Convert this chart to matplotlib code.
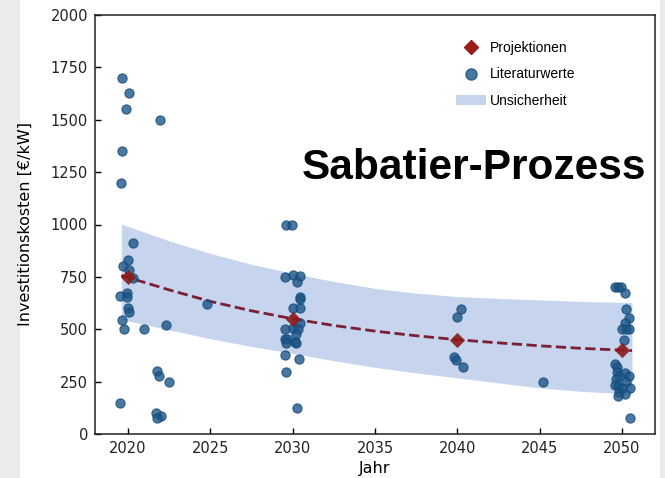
import matplotlib
matplotlib.use('Agg')
import matplotlib.pyplot as plt
from matplotlib.lines import Line2D
from matplotlib.patches import Patch, Rectangle

# Literaturwerte (Jahr, Investitionskosten in EUR/kW)
lit_years = [2019.62, 2020.08, 2019.88, 2021.94, 2019.65, 2019.60, 2020.28, 2020.02,
             2019.70, 2020.08, 2020.28, 2019.53, 2019.96, 2019.92, 2020.00, 2020.06,
             2019.62, 2019.76, 2020.99, 2022.29, 2024.77, 2021.74, 2021.90, 2022.47,
             2019.53, 2021.68, 2022.00, 2021.74,
             2029.62, 2029.99, 2029.54, 2030.05, 2030.45, 2030.29, 2030.43, 2030.45,
             2030.03, 2030.47, 2030.47, 2030.03, 2029.56, 2030.33, 2030.23, 2029.54,
             2029.66, 2029.58, 2030.15, 2030.20, 2029.52, 2030.37, 2029.62, 2030.27,
             2040.25, 2039.95, 2039.80, 2039.94, 2040.32, 2045.20,
             2049.56, 2049.76, 2049.92, 2050.20, 2050.23, 2050.44, 2050.20, 2050.02,
             2050.23, 2050.44, 2050.10, 2049.58, 2049.68, 2049.70, 2049.82, 2050.18,
             2050.45, 2049.64, 2050.23, 2049.58, 2049.76, 2050.00, 2050.48, 2049.79,
             2050.20, 2049.77, 2050.50]
lit_values = [1700, 1630, 1550, 1500, 1350, 1200, 910, 830,
              800, 783, 743, 659, 671, 653, 600, 581,
              544, 500, 500, 520, 619, 301, 277, 250,
              150, 102, 86, 75,
              1000, 1000, 748, 759, 754, 726, 654, 644,
              600, 600, 528, 504, 500, 500, 477, 452,
              452, 433, 441, 436, 376, 360, 295, 124,
              598, 558, 369, 352, 320, 250,
              700, 700, 700, 675, 598, 554, 528, 500,
              500, 500, 450, 336, 318, 297, 278, 290,
              278, 261, 250, 234, 229, 218, 220, 202,
              191, 183, 75]

# Projektionen
proj_years = [2020, 2030, 2040, 2050]
proj_values = [750, 550, 450, 400]

# Trendkurve und Unsicherheitsband
curve_years = [2019.6, 2022.5, 2025, 2027.5, 2030, 2032.5, 2035, 2037.5,
               2040, 2042.5, 2045, 2047.5, 2050.6]
curve_mid = [757, 688, 633, 588, 550, 518, 491, 469, 450, 435, 421, 409, 398]
curve_upper = [1002, 922, 862, 810, 767, 728, 695, 672, 656, 647, 640, 633, 627]
curve_lower = [547, 497, 455, 418, 385, 350, 318, 292, 268, 244, 220, 204, 190]

fig = plt.figure(figsize=(6.65, 4.78), dpi=100, facecolor='#ebebeb')
fig.patches.append(Rectangle((20 / 665, 0), 640 / 665, 1, transform=fig.transFigure,
                             facecolor='white', edgecolor='none', zorder=-10))
ax = fig.add_axes([95 / 665, 1 - 434 / 478, 560 / 665, 419 / 478])

ax.fill_between(curve_years, curve_lower, curve_upper, color='#4472C4', alpha=0.3,
                linewidth=0, zorder=1)
ax.plot(curve_years, curve_mid, '--', color='#7a1f35', lw=2, zorder=2)
ax.scatter(lit_years, lit_values, s=44, color='#1b5689', alpha=0.8,
           edgecolors='#174a78', linewidths=0.8, zorder=3)
ax.scatter(proj_years, proj_values, marker='D', s=60, color='#8b1a1a', alpha=0.9,
           linewidths=0, zorder=4)

ax.set_xlim(2018, 2052)
ax.set_ylim(0, 2000)
ax.set_xticks([2020, 2025, 2030, 2035, 2040, 2045, 2050])
ax.set_yticks([0, 250, 500, 750, 1000, 1250, 1500, 1750, 2000])
ax.tick_params(direction='in', length=4, width=1, labelsize=10.5, pad=5,
               labelcolor='#222222')
for s in ax.spines.values():
    s.set_linewidth(1.1)
    s.set_color('#222222')

ax.set_xlabel('Jahr', fontsize=11.5)
ax.set_ylabel('Investitionskosten [€/kW]', fontsize=11.5)
ax.yaxis.set_label_coords(-0.111, 0.5)

ax.text(0.369, 0.634, 'Sabatier-Prozess', transform=ax.transAxes, ha='left', va='center',
        fontsize=30.5, fontweight='bold', family='Liberation Sans')

handles = [
    Line2D([], [], marker='D', linestyle='none', color='#9b1c1c', markersize=7),
    Line2D([], [], marker='o', linestyle='none', color='#1b5689', alpha=0.8,
           markeredgecolor='#174a78', markersize=8),
    Patch(facecolor='#4472C4', alpha=0.3, edgecolor='none'),
]
ax.legend(handles, ['Projektionen', 'Literaturwerte', 'Unsicherheit'],
          loc='upper left', bbox_to_anchor=(0.644, 0.938), frameon=False,
          borderpad=0, borderaxespad=0, handlelength=2.2, handletextpad=0.3,
          labelspacing=0.9, prop={'family': 'Liberation Sans', 'size': 10})

fig.savefig('out.png', dpi=100, facecolor=fig.get_facecolor())
